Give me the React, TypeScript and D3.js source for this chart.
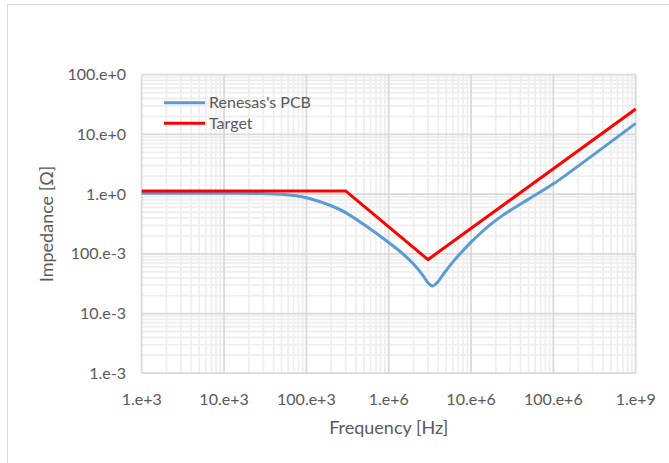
import React from "react";
import * as d3 from "d3";

// Impedance profile of the board vs. the target impedance mask
const pcbFreq = [1e3, 1e4, 3e4, 5e4, 1e5, 2e5, 3e5, 5e5, 1e6, 1.5e6, 2e6, 2.6e6, 3.1e6, 3.45e6, 3.9e6, 4.6e6, 5.6e6, 7.4e6, 1e7, 1.3e7, 1.7e7, 2.26e7, 3e7, 5e7, 1e8, 3e8, 1e9];
const pcbZ = [1.03, 1.03, 1.02, 0.99, 0.87, 0.638, 0.49, 0.309, 0.155, 0.0992, 0.0673, 0.0436, 0.0312, 0.029, 0.0332, 0.0454, 0.0647, 0.101, 0.157, 0.221, 0.305, 0.411, 0.534, 0.824, 1.485, 4.46, 15.3];

const targetFreq = [1e3, 3e5, 3e6, 1e9];
const targetZ = [1.13, 1.13, 0.08, 26.7];

const xTicks = [1e3, 1e4, 1e5, 1e6, 1e7, 1e8, 1e9];
const xTickLabels = ["1.e+3", "10.e+3", "100.e+3", "1.e+6", "10.e+6", "100.e+6", "1.e+9"];
const yTicks = [100, 10, 1, 0.1, 0.01, 0.001];
const yTickLabels = ["100.e+0", "10.e+0", "1.e+0", "100.e-3", "10.e-3", "1.e-3"];

const seriesNames = ["Renesas's PCB", "Target"];
const seriesColors = ["#5b9bd5", "#ff0000"];

const W = 669;
const H = 463;
const FONT = "Lato, 'Open Sans', sans-serif";
const TEXT = "#595959";

export default function App() {
  const left = 141.7, right = 635.7, top = 74.7, bottom = 373.2;
  const x = d3.scaleLog().domain([1e3, 1e9]).range([left, right]);
  const y = d3.scaleLog().domain([1e-3, 100]).range([bottom, top]);

  const minorX: number[] = [];
  for (let e = 3; e < 9; e++) for (let k = 2; k <= 9; k++) minorX.push(k * Math.pow(10, e));
  const minorY: number[] = [];
  for (let e = -3; e < 2; e++) for (let k = 2; k <= 9; k++) minorY.push(k * Math.pow(10, e));

  const pcbPath = d3
    .line<[number, number]>()
    .x((d) => x(d[0]))
    .y((d) => y(d[1]))
    .curve(d3.curveCatmullRom.alpha(0.5))(pcbFreq.map((f, i) => [f, pcbZ[i]] as [number, number]));
  const targetPath = d3
    .line<[number, number]>()
    .x((d) => x(d[0]))
    .y((d) => y(d[1]))(targetFreq.map((f, i) => [f, targetZ[i]] as [number, number]));

  return (
    <div style={{ position: "fixed", left: 0, top: 0, width: W, height: H, background: "#fff" }}>
      <svg width={W} height={H} style={{ display: "block" }} fontFamily={FONT}>
        <rect x={0} y={0} width={W} height={H} fill="#fff" />
        <rect x={7.5} y={4.5} width={W + 20} height={H + 20} fill="#fff" stroke="#d9d9d9" strokeWidth={1} />

        {/* minor grid */}
        {minorX.map((v) => (
          <line key={"mx" + v} x1={x(v)} x2={x(v)} y1={top} y2={bottom} stroke="#eeeeee" strokeWidth={1.75} />
        ))}
        {minorY.map((v) => (
          <line key={"my" + v} x1={left} x2={right} y1={y(v)} y2={y(v)} stroke="#eeeeee" strokeWidth={1.75} />
        ))}
        {/* major grid */}
        {xTicks.map((v) => (
          <line key={"gx" + v} x1={x(v)} x2={x(v)} y1={top} y2={bottom} stroke="#d9d9d9" strokeWidth={1.75} />
        ))}
        {yTicks.map((v) => (
          <line key={"gy" + v} x1={left} x2={right} y1={y(v)} y2={y(v)} stroke="#d9d9d9" strokeWidth={1.75} />
        ))}

        {/* tick labels */}
        {yTicks.map((v, i) => (
          <text key={"ty" + v} x={126} y={y(v)} dy="0.35em" textAnchor="end" fontSize={16} fill={TEXT}>
            {yTickLabels[i]}
          </text>
        ))}
        {xTicks.map((v, i) => (
          <text key={"tx" + v} x={x(v)} y={399} dy="0.35em" textAnchor="middle" fontSize={16} fill={TEXT}>
            {xTickLabels[i]}
          </text>
        ))}

        {/* axis titles */}
        <text x={(left + right) / 2} y={428} dy="0.35em" textAnchor="middle" fontSize={18} fill={TEXT}>
          Frequency [Hz]
        </text>
        <text
          transform={`translate(47,${(top + bottom) / 2}) rotate(-90)`}
          dy="0.35em"
          textAnchor="middle"
          fontSize={18}
          fill={TEXT}
        >
          Impedance [Ω]
        </text>

        {/* series */}
        <path d={pcbPath || ""} fill="none" stroke={seriesColors[0]} strokeWidth={3} strokeLinejoin="round" />
        <path d={targetPath || ""} fill="none" stroke={seriesColors[1]} strokeWidth={3} strokeLinejoin="miter" />

        {/* legend */}
        {seriesNames.map((name, i) => (
          <g key={name} transform={`translate(164,${102.7 + i * 20.6})`}>
            <line x1={0} x2={41} y1={0} y2={0} stroke={seriesColors[i]} strokeWidth={3} />
            <text x={45} y={0} dy="0.35em" fontSize={16} fill={TEXT}>
              {name}
            </text>
          </g>
        ))}
      </svg>
    </div>
  );
}
